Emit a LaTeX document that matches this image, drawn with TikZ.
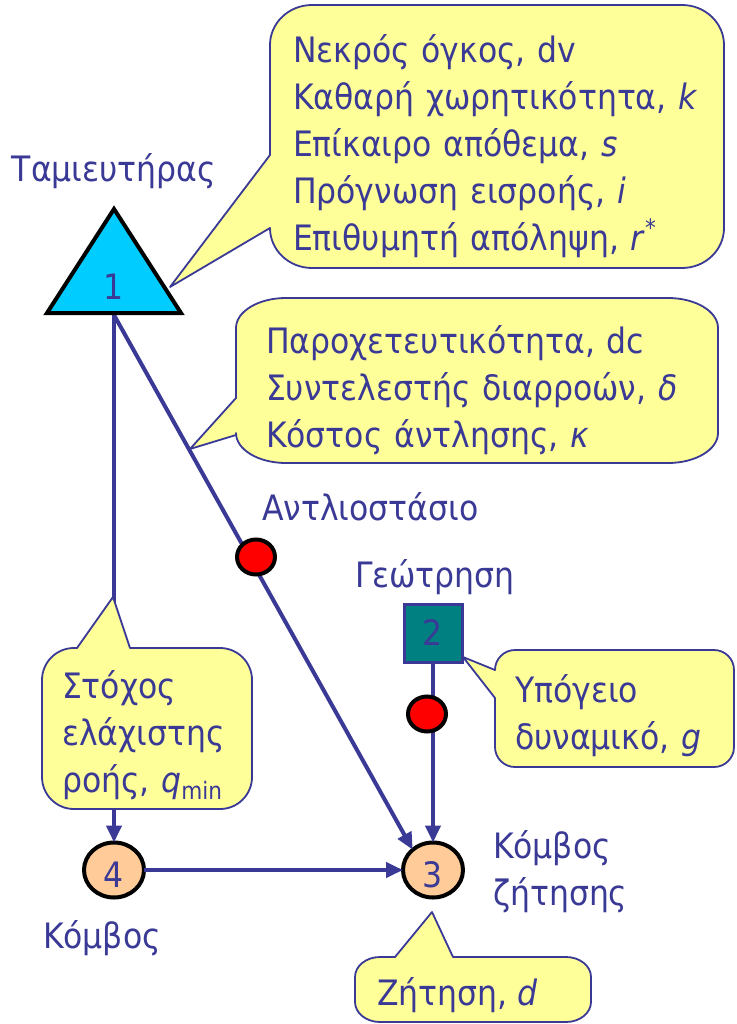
\documentclass[tikz,border=0pt]{standalone}
\usepackage{fontspec}
\setmainfont{DejaVu Sans}[FakeStretch=0.9]
\usetikzlibrary{arrows.meta,shapes.geometric}

\definecolor{ink}{RGB}{58,58,150}
\definecolor{notefill}{RGB}{255,255,153}
\definecolor{lake}{RGB}{0,204,255}
\definecolor{well}{RGB}{0,128,128}
\definecolor{junction}{RGB}{255,204,153}
\definecolor{pumpred}{RGB}{255,0,0}

% speech-bubble with elliptic corners and the pointer on the left edge
% {x1}{y1}{x2}{y2}{rx}{ry}{lower y of pointer}{tip}{upper y of pointer}
\newcommand\noteleft[9]{%
  \path[notebox] ({#1+#5},#2) -- ({#3-#5},#2)
    arc[start angle=-90,end angle=0,x radius=#5,y radius=#6] -- (#3,{#4-#6})
    arc[start angle=0,end angle=90,x radius=#5,y radius=#6] -- ({#1+#5},#4)
    arc[start angle=90,end angle=180,x radius=#5,y radius=#6] -- (#1,#7) -- #8 -- (#1,#9)
    -- (#1,{#2+#6})
    arc[start angle=180,end angle=270,x radius=#5,y radius=#6] -- cycle;}
% same, pointer on the top edge
% {x1}{y1}{x2}{y2}{rx}{ry}{left x of pointer}{tip}{right x of pointer}
\newcommand\notetop[9]{%
  \path[notebox] ({#1+#5},#2) -- (#7,#2) -- #8 -- (#9,#2) -- ({#3-#5},#2)
    arc[start angle=-90,end angle=0,x radius=#5,y radius=#6] -- (#3,{#4-#6})
    arc[start angle=0,end angle=90,x radius=#5,y radius=#6] -- ({#1+#5},#4)
    arc[start angle=90,end angle=180,x radius=#5,y radius=#6] -- (#1,{#2+#6})
    arc[start angle=180,end angle=270,x radius=#5,y radius=#6] -- cycle;}

\newcommand\subtxt[1]{\raisebox{-0.22em}{\fontsize{24}{24}\selectfont #1}}
\newcommand\suptxt[1]{\raisebox{0.42em}{\fontsize{24}{24}\selectfont #1}}
% digit set a little below the centre of its junction
\newcommand\lowdigit[1]{\raisebox{-5pt}[\height][0pt]{#1}}

\begin{document}
\begin{tikzpicture}[x=1pt,y=-1pt,
  every node/.style={text=ink, font=\fontsize{35}{47}\selectfont, inner sep=0pt, outer sep=0pt},
  pipe/.style={draw=ink, line width=4pt},
  flow/.style={pipe, -{Triangle[length=17pt,width=15pt]}},
  junc/.style={ellipse, draw=black, line width=4pt, fill=junction,
               minimum width=60pt, minimum height=55pt},
  pumpst/.style={ellipse, draw=black, line width=4pt, fill=pumpred,
                 minimum width=38pt, minimum height=35pt},
  notebox/.style={draw=ink, line width=1.8pt, fill=notefill, line join=round},
  lbltext/.style={anchor=base west},
  notetext/.style={anchor=base west, align=left, text width=#1}]

\fill[white] (0,0) rectangle (736,1024);
\useasboundingbox (0,0) rectangle (736,1024);

% nodes of the network
\coordinate (resout) at (114,315);
\node[junc] (n4) at (114,870) {\lowdigit{4}};
\node[junc] (n3) at (433,870) {\lowdigit{3}};
\node[draw=ink, line width=3pt, fill=well, minimum size=58pt] (n2) at (433,633) {2};

% pipes
\draw[flow] (resout) -- (n4);
\draw[flow] (resout) -- (n3.135);
\draw[flow] (n2) -- (n3);
\draw[flow] (n4) -- (n3);

% reservoir
\draw[line width=4pt, fill=lake, line join=miter] (114,209) -- (181,313) -- (47,313) -- cycle;
\node (res) at (114,287) {1};

% pumps
\node[pumpst] (p1) at (256,557) {};
\node[pumpst] (p2) at (427,714) {};

% labels
\node[anchor=base] (lres) at (114,182) {Ταμιευτήρας};
\node[lbltext] (lpump) at (262,520) {Αντλιοστάσιο};
\node[lbltext] (lwell) at (355,587) {Γεώτρηση};
\node[notetext=200pt] (ldem) at (493,858) {Κόμβος\\ζήτησης};
\node[lbltext] (ljun) at (43,948) {Κόμβος};

% callouts
\noteleft{270}{5}{724}{268}{42}{40}{228}{(170,287)}{155}
\node[notetext=430pt] (tres) at (293,63)
  {Νεκρός όγκος, dv\\
   Καθαρή χωρητικότητα, \textit{k}\\
   Επίκαιρο απόθεμα, \textit{s}\\
   Πρόγνωση εισροής, \textit{i}\\
   Επιθυμητή απόληψη, \textit{r}\suptxt{*}};

\noteleft{236}{298}{718}{463}{50}{30}{435}{(190,449)}{398}
\node[notetext=440pt] (tpipe) at (266,353)
  {Παροχετευτικότητα, dc\\
   Συντελεστής διαρροών, \textit{δ}\\
   Κόστος άντλησης, \textit{κ}};

\notetop{42}{648}{252}{809}{32}{32}{77}{(113,597)}{130}
\node[notetext=190pt] (tmin) at (62,698)
  {Στόχος\\ελάχιστης\\ροής, \textit{q}\subtxt{min}};

\noteleft{495}{650}{734}{767}{20}{20}{698}{(463,657)}{670}
\node[notetext=220pt] (twell) at (515,702)
  {Υπόγειο\\δυναμικό, \textit{g}};

\notetop{355}{957}{591}{1022}{25}{20}{395}{(432,912)}{453}
\node[lbltext] (tdem) at (377,1005) {Ζήτηση, \textit{d}};

\end{tikzpicture}
\end{document}
